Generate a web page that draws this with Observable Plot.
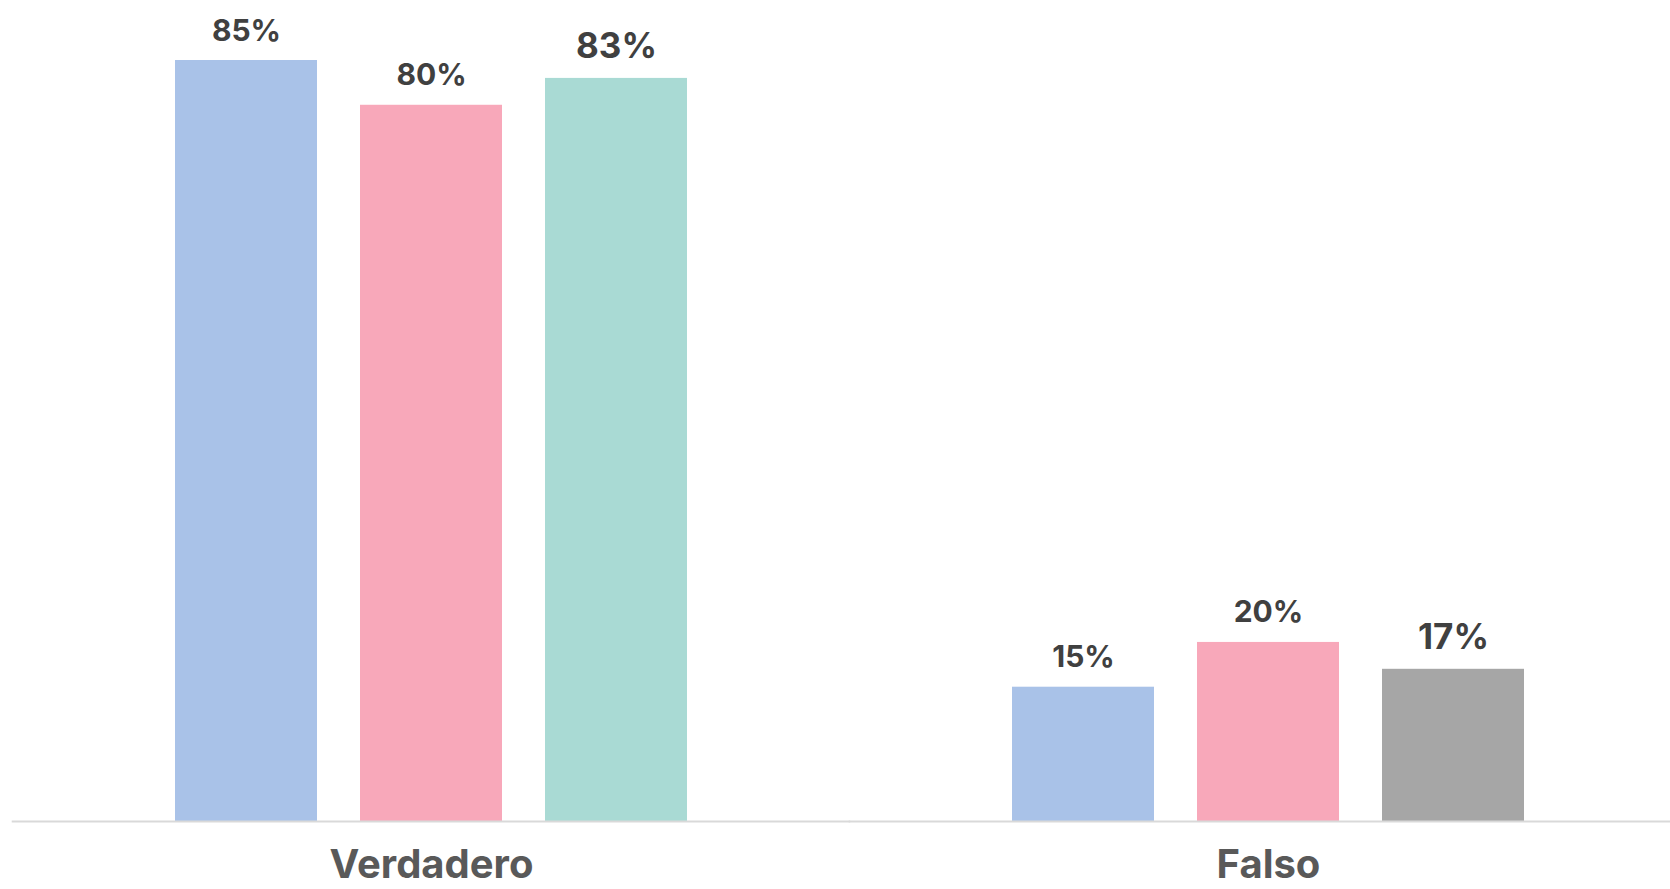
<!DOCTYPE html>
<html>
<head>
<meta charset="utf-8">
<script src="https://cdn.jsdelivr.net/npm/d3@7"></script>
<script src="https://cdn.jsdelivr.net/npm/@observablehq/plot@0.6"></script>
<style>
  html, body { margin: 0; padding: 0; background: #fff; }
  #chart svg { display: block; }
</style>
</head>
<body>
<div id="chart"></div>
<script>
// Data
const categories = ["Verdadero", "Falso"];
const series = ["Serie 1", "Serie 2", "Serie 3"];
const verdaderoValues = [85, 80, 83];
const falsoValues = [15, 20, 17];

// Styles (separate from data)
const seriesColors = ["#a9c2e8", "#f8a8ba", "#a9dad4"];
const falsoThirdColor = "#a6a6a6";

const valuesByCategory = { "Verdadero": verdaderoValues, "Falso": falsoValues };
const data = categories.flatMap(c => series.map((s, i) => ({ category: c, series: s, value: valuesByCategory[c][i] })));

const colorOf = d => {
  const i = series.indexOf(d.series);
  if (d.category === "Falso" && i === 2) return falsoThirdColor;
  return seriesColors[i];
};

const chart = Plot.plot({
  width: 1670,
  height: 889,
  marginLeft: 11,
  marginRight: 0,
  marginTop: 0,
  marginBottom: 68,
  style: { background: "#fff", fontFamily: "Inter, 'DejaVu Sans', sans-serif" },
  fx: { domain: categories, paddingInner: 0.2837, paddingOuter: 0.1322, align: 0.5386, label: null },
  x: { domain: series, paddingInner: 0.23, paddingOuter: 0.234, axis: null },
  y: { domain: [0, 85], range: [821, 60], axis: null },
  marks: [
    Plot.barY(data, { fx: "category", x: "series", y: "value", fill: colorOf }),
    Plot.ruleY(categories, { fx: d => d, y: () => 0, stroke: "#d9d9d9", strokeWidth: 2, insetLeft: -119.3, insetRight: -119.3 }),
    Plot.text(data, {
      fx: "category", x: "series", y: "value",
      text: d => d.value + "%",
      lineAnchor: "bottom",
      dy: -20,
      fontSize: d => series.indexOf(d.series) === 2 ? 35 : 30,
      fontWeight: 700,
      fill: "#404040"
    }),
    Plot.axisFx({ anchor: "bottom", tickSize: 0, tickPadding: 28, fontSize: 40, fontWeight: 700, fill: "#595959", label: null })
  ]
});
document.getElementById("chart").appendChild(chart);
</script>
</body>
</html>
